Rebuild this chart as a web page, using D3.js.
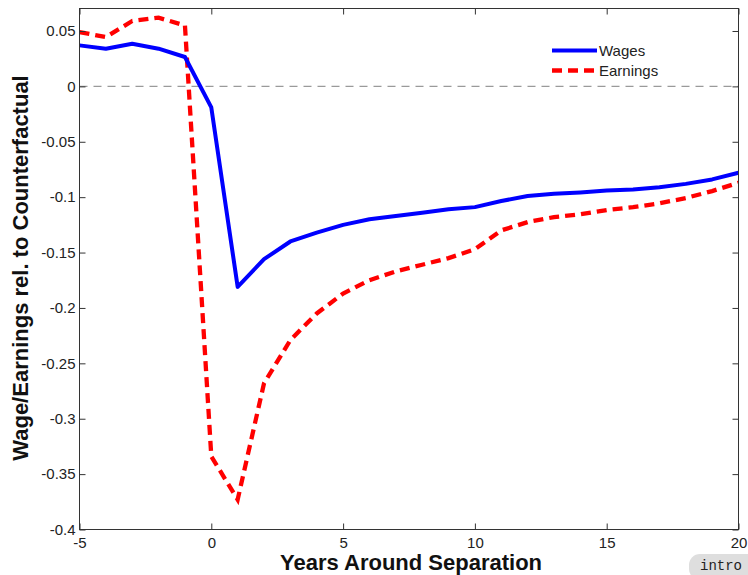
<!DOCTYPE html>
<html>
<head>
<meta charset="utf-8">
<script src="https://cdn.jsdelivr.net/npm/d3@7/dist/d3.min.js"></script>
<style>
  html, body { margin: 0; padding: 0; background: #fff; }
  svg { display: block; }
</style>
</head>
<body>
<svg id="chart" width="748" height="575"></svg>
<script>
// ---- data ----
const years = [-5,-4,-3,-2,-1,0,1,2,3,4,5,6,7,8,9,10,11,12,13,14,15,16,17,18,19,20];
const wages = [0.037,0.034,0.0385,0.034,0.0265,-0.019,-0.181,-0.156,-0.140,-0.132,-0.125,-0.120,-0.117,-0.114,-0.111,-0.109,-0.1035,-0.099,-0.097,-0.0957,-0.094,-0.093,-0.091,-0.088,-0.084,-0.078];
const earnings = [0.049,0.0445,0.059,0.062,0.055,-0.334,-0.373,-0.268,-0.229,-0.205,-0.187,-0.175,-0.167,-0.161,-0.155,-0.147,-0.130,-0.1225,-0.118,-0.1155,-0.1116,-0.109,-0.1056,-0.1008,-0.0945,-0.087];
const xTicks = [-5,0,5,10,15,20];
const yTicks = [0.05,0,-0.05,-0.1,-0.15,-0.2,-0.25,-0.3,-0.35,-0.4];
const yTickLabels = ["0.05","0","-0.05","-0.1","-0.15","-0.2","-0.25","-0.3","-0.35","-0.4"];
const seriesNames = ["Wages","Earnings"];

// ---- layout ----
const svg = d3.select("#chart");
const pLeft = 79.5, pRight = 738.5, pTop = 8.5, pBottom = 529.5;
const x = d3.scaleLinear().domain([-5,20]).range([pLeft,pRight]);
const y = d3.scaleLinear().domain([-0.4,0.0703]).range([pBottom,pTop]);
const font = "'Liberation Sans', Arial, Helvetica, sans-serif";

// zero reference line
svg.append("line")
  .attr("x1", x(-5)).attr("x2", x(20))
  .attr("y1", y(0)).attr("y2", y(0))
  .attr("stroke", "#9a9a9a").attr("stroke-width", 1.2)
  .attr("stroke-dasharray", "8,6");

// lines
const line = d3.line().x((d,i)=>x(years[i])).y(d=>y(d));
svg.append("path").datum(earnings)
  .attr("d", line).attr("fill","none")
  .attr("stroke","#ff0000").attr("stroke-width",4.3)
  .attr("stroke-dasharray","10,6");
svg.append("path").datum(wages)
  .attr("d", line).attr("fill","none")
  .attr("stroke","#0000ff").attr("stroke-width",4)
  .attr("stroke-linejoin","round");

// frame
svg.append("rect")
  .attr("x", pLeft).attr("y", pTop)
  .attr("width", pRight-pLeft).attr("height", pBottom-pTop)
  .attr("fill","none").attr("stroke","#333").attr("stroke-width",1);

// axes with inward ticks
const xAxisB = d3.axisBottom(x).tickValues(xTicks).tickSize(-6).tickPadding(8)
  .tickFormat(d=>String(d).replace("\u2212","-"));
const gx = svg.append("g").attr("transform",`translate(0,${pBottom})`).call(xAxisB);
const xAxisT = d3.axisTop(x).tickValues(xTicks).tickSize(-6).tickFormat("");
const gxt = svg.append("g").attr("transform",`translate(0,${pTop})`).call(xAxisT);
const yAxisL = d3.axisLeft(y).tickValues(yTicks).tickSize(-6).tickPadding(4)
  .tickFormat((d,i)=>yTickLabels[i]);
const gy = svg.append("g").attr("transform",`translate(${pLeft},0)`).call(yAxisL);
const yAxisR = d3.axisRight(y).tickValues(yTicks).tickSize(-6).tickFormat("");
const gyr = svg.append("g").attr("transform",`translate(${pRight},0)`).call(yAxisR);
[gx,gxt,gy,gyr].forEach(g=>{
  g.select(".domain").remove();
  g.selectAll(".tick line").attr("stroke","#333");
  g.selectAll("text").attr("font-family",font).attr("font-size",15).attr("fill","#222");
});
gx.selectAll("text").attr("dy","0.71em");

// axis titles
svg.append("text")
  .attr("x", 411).attr("y", 570)
  .attr("text-anchor","middle")
  .attr("font-family",font).attr("font-weight","bold").attr("font-size",22)
  .attr("fill","#111")
  .text("Years Around Separation");
svg.append("text")
  .attr("transform","translate(28,268) rotate(-90)")
  .attr("text-anchor","middle")
  .attr("font-family",font).attr("font-weight","bold").attr("font-size",22)
  .attr("fill","#111")
  .text("Wage/Earnings rel. to Counterfactual");

// legend
const legend = svg.append("g");
const legItems = [
  {name: seriesNames[0], color:"#0000ff", dash:null, yy:50.5},
  {name: seriesNames[1], color:"#ff0000", dash:"10,6", yy:70.5}
];
legItems.forEach(it=>{
  legend.append("line")
    .attr("x1",552).attr("x2",597).attr("y1",it.yy).attr("y2",it.yy)
    .attr("stroke",it.color).attr("stroke-width",it.dash?4.3:4)
    .attr("stroke-dasharray",it.dash);
  legend.append("text")
    .attr("x",599).attr("y",it.yy).attr("dy","0.35em")
    .attr("font-family",font).attr("font-size",15).attr("fill","#222")
    .text(it.name);
});

// corner badge
svg.append("rect").attr("x",689).attr("y",554).attr("width",70).attr("height",26).attr("rx",11)
  .attr("fill","#dedede");
svg.append("text").attr("x",700).attr("y",570)
  .attr("font-family","'Liberation Mono', 'DejaVu Sans Mono', monospace").attr("font-size",14).attr("fill","#222")
  .text("intro");
</script>
</body>
</html>
